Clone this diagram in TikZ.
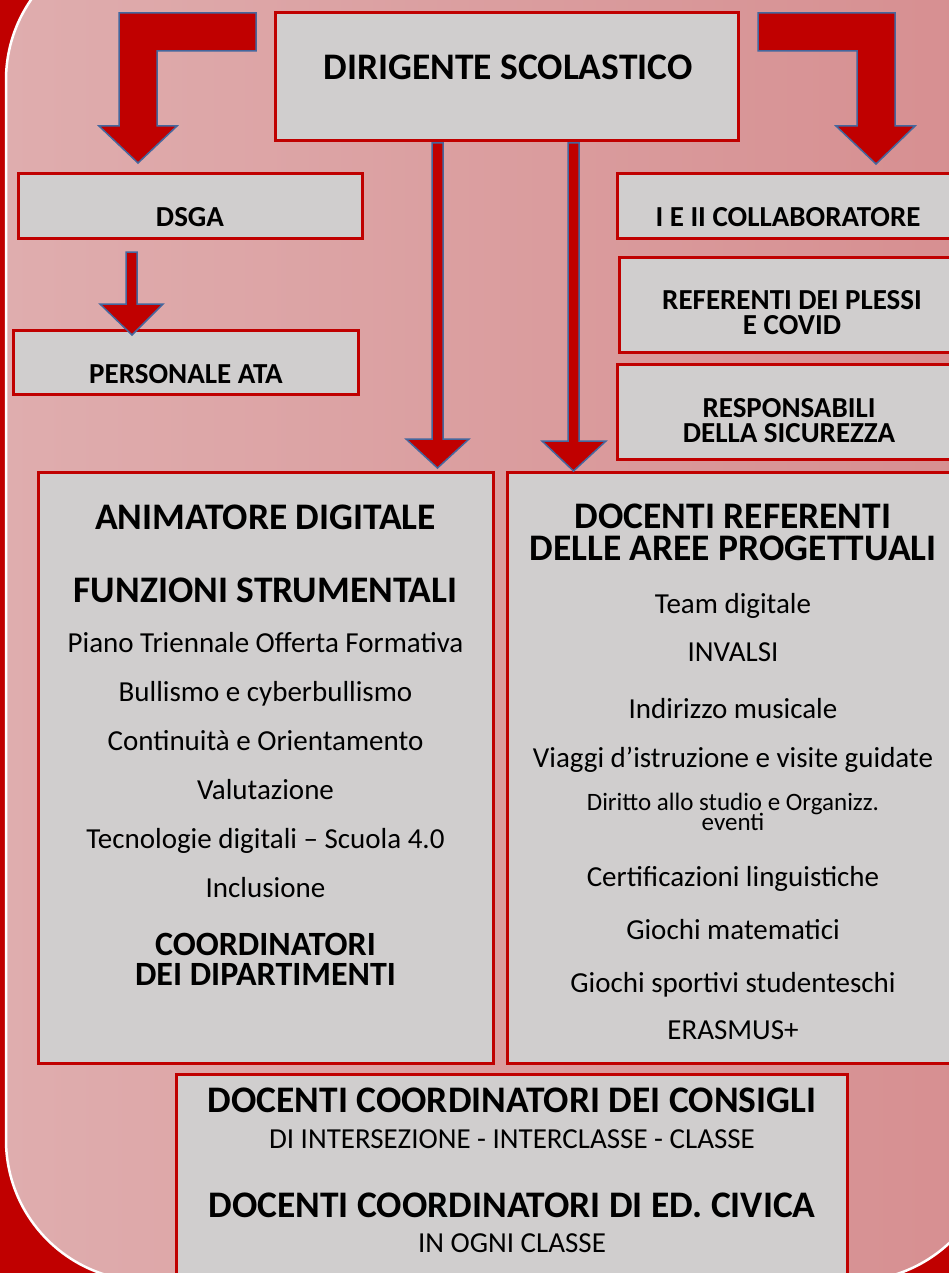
\documentclass[tikz,border=0pt]{standalone}
\usepackage{fontspec}
\setmainfont{Carlito}
\definecolor{dred}{HTML}{C00000}
\definecolor{boxgray}{HTML}{D0CECE}
\definecolor{arrblue}{HTML}{44679E}
\definecolor{bgl}{HTML}{DFADAE}
\definecolor{bgm}{HTML}{E4BDBD}
\definecolor{bgr}{HTML}{D68E90}
\tikzset{
  box/.style={draw=dred, line width=3pt, fill=boxgray, inner sep=0pt, outer sep=0pt},
  blockarr/.style={fill=dred, draw=arrblue, line width=1.5pt, line join=miter},
  hbig/.style={font=\fontsize{37.5}{37.5}\selectfont\bfseries, inner sep=0pt, anchor=base},
  hcoord/.style={font=\fontsize{34}{34}\selectfont\bfseries, inner sep=0pt, anchor=base},
  hmid/.style={font=\fontsize{29}{29}\selectfont\bfseries, inner sep=0pt, anchor=base},
  txt/.style={font=\fontsize{29}{29}\selectfont, inner sep=0pt, anchor=base},
  txts/.style={font=\fontsize{25}{25}\selectfont, inner sep=0pt, anchor=base},
}
\begin{document}
\begin{tikzpicture}[x=1pt,y=-1pt]
\useasboundingbox (0,0) rectangle (949,1273);
\clip (0,0) rectangle (949,1273);
% background
\fill[dred] (0,0) rectangle (949,1273);
\shade[left color=bgl, middle color=bgm, right color=bgr, rounded corners=141pt] (6,-61) rectangle (994,1281);
\draw[white, line width=2.5pt, rounded corners=141pt] (6,-61) rectangle (994,1281);

% boxes
\node[box, minimum width=463pt, minimum height=128pt] (dir) at (506.5,77) {};
\node[box, minimum width=344pt, minimum height=65pt] (dsga) at (190,206.5) {};
\node[box, minimum width=345pt, minimum height=64pt] (ata) at (185.5,362) {};
\node[box, minimum width=358pt, minimum height=65pt] (coll) at (796,206.5) {};
\node[box, minimum width=356pt, minimum height=95pt] (ref) at (797,304.5) {};
\node[box, minimum width=358pt, minimum height=95pt] (resp) at (796,411.5) {};
\node[box, minimum width=455pt, minimum height=591pt] (lbig) at (265.5,767.5) {};
\node[box, minimum width=463pt, minimum height=591pt] (rbig) at (738.5,767.5) {};
\node[box, minimum width=671pt, minimum height=216pt] (bot) at (511.5,1182) {};

% block arrows
\filldraw[blockarr] (256,13) -- (119,13) -- (119,126) -- (99,126) -- (138,163) -- (177,126) -- (157,126) -- (157,51) -- (256,51) -- cycle;
\filldraw[blockarr] (758,13) -- (895,13) -- (895,126) -- (915,126) -- (876,164) -- (836,126) -- (857,126) -- (857,51) -- (758,51) -- cycle;
\filldraw[blockarr] (126,252) -- (137,252) -- (137,304) -- (163,304) -- (132,335) -- (100,304) -- (126,304) -- cycle;
\filldraw[blockarr] (432,143) -- (443,143) -- (443,439) -- (469,439) -- (437.5,468) -- (406,439) -- (432,439) -- cycle;
\filldraw[blockarr] (568,143) -- (579,143) -- (579,441) -- (606,441) -- (573.5,471) -- (542,441) -- (568,441) -- cycle;

% texts
\node[hbig] (tdir) at (508,80) {DIRIGENTE SCOLASTICO};
\node[hmid] (tdsga) at (190,227) {DSGA};
\node[hmid] (tata) at (186,383) {PERSONALE ATA};
\node[hmid] (tcoll) at (788,227) {I E II COLLABORATORE};
\node[hmid] (tref1) at (792,309) {REFERENTI DEI PLESSI};
\node[hmid] (tref2) at (792,334) {E COVID};
\node[hmid] (tresp1) at (789,417) {RESPONSABILI};
\node[hmid] (tresp2) at (789,442) {DELLA SICUREZZA};

\node[hbig] (l1) at (265.5,529) {ANIMATORE DIGITALE};
\node[hbig] (l2) at (265.5,602) {FUNZIONI STRUMENTALI};
\node[txt] (l3) at (265.5,652) {Piano Triennale Offerta Formativa};
\node[txt] (l4) at (265.5,701) {Bullismo e cyberbullismo};
\node[txt] (l5) at (265.5,750) {Continuità e Orientamento};
\node[txt] (l6) at (265.5,799) {Valutazione};
\node[txt] (l7) at (265.5,848) {Tecnologie digitali – Scuola 4.0};
\node[txt] (l8) at (265.5,897) {Inclusione};
\node[hcoord] (l9) at (265.5,955) {COORDINATORI};
\node[hcoord] (l10) at (265.5,985) {DEI DIPARTIMENTI};

\node[hbig] (r1) at (733,528) {DOCENTI REFERENTI};
\node[hbig] (r2) at (733,560) {DELLE AREE PROGETTUALI};
\node[txt] (r3) at (733,613) {Team digitale};
\node[txt] (r4) at (733,661) {INVALSI};
\node[txt] (r5) at (733,718) {Indirizzo musicale};
\node[txt] (r6) at (733,767) {Viaggi d’istruzione e visite guidate};
\node[txts] (r7) at (733,810) {Diritto allo studio e Organizz.};
\node[txts] (r8) at (733,830) {eventi};
\node[txt] (r9) at (733,886) {Certificazioni linguistiche};
\node[txt] (r10) at (733,939) {Giochi matematici};
\node[txt] (r11) at (733,992) {Giochi sportivi studenteschi};
\node[txt] (r12) at (733,1039) {ERASMUS+};

\node[hbig] (b1) at (512,1112) {DOCENTI COORDINATORI DEI CONSIGLI};
\node[txt] (b2) at (512,1148) {DI INTERSEZIONE - INTERCLASSE - CLASSE};
\node[hbig] (b3) at (512,1217) {DOCENTI COORDINATORI DI ED. CIVICA};
\node[txt] (b4) at (512,1252) {IN OGNI CLASSE};
\end{tikzpicture}
\end{document}
